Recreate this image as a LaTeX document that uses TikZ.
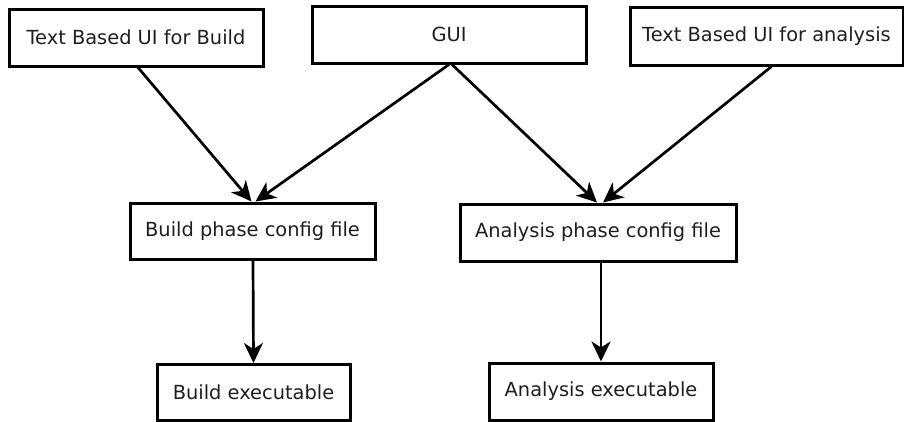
\documentclass[tikz,border=0pt]{standalone}
\usepackage{fontspec}
\setmainfont{DejaVu Sans}
\usetikzlibrary{arrows.meta}
\begin{document}
\begin{tikzpicture}[x=1pt,y=-1pt,
  box/.style={draw=black, line width=3pt, fill=white, inner sep=0pt, anchor=center,
    font=\fontsize{19.4}{21}\selectfont, text=black!88},
  arr/.style={line width=2.7pt, -{Stealth[length=20pt,width=19pt,inset=6pt]}}]
\useasboundingbox[fill=white] (0,0) rectangle (904,421);
\node[box, minimum width=254pt, minimum height=57pt] (tb) at (136,37.5) {Text Based UI for Build};
\node[box, minimum width=274pt, minimum height=57pt] (gui) at (449,34.5) {GUI};
\node[box, minimum width=273pt, minimum height=58pt] (ta) at (766.5,36) {Text Based UI for analysis};
\node[box, minimum width=245pt, minimum height=56pt] (bp) at (252.5,231) {Build phase config file};
\node[box, minimum width=276pt, minimum height=57pt] (ap) at (598,232.5) {Analysis phase config file};
\node[box, minimum width=193pt, minimum height=56pt] (be) at (253.5,392.5) {Build executable};
\node[box, minimum width=224pt, minimum height=57pt] (ae) at (601,391.5) {Analysis executable};
\draw[arr] ([xshift=2pt]tb.south) -- ([xshift=-1pt]bp.north);
\draw[arr] (gui.south) -- ([xshift=3pt]bp.north);
\draw[arr] ([xshift=3pt]gui.south) -- ([xshift=-1pt]ap.north);
\draw[arr] ([xshift=5pt]ta.south) -- ([xshift=5pt]ap.north);
\draw[arr] ([xshift=0.5pt]bp.south) -- (be.north);
\draw[arr] ([xshift=3pt]ap.south) -- (ae.north);
\end{tikzpicture}
\end{document}
